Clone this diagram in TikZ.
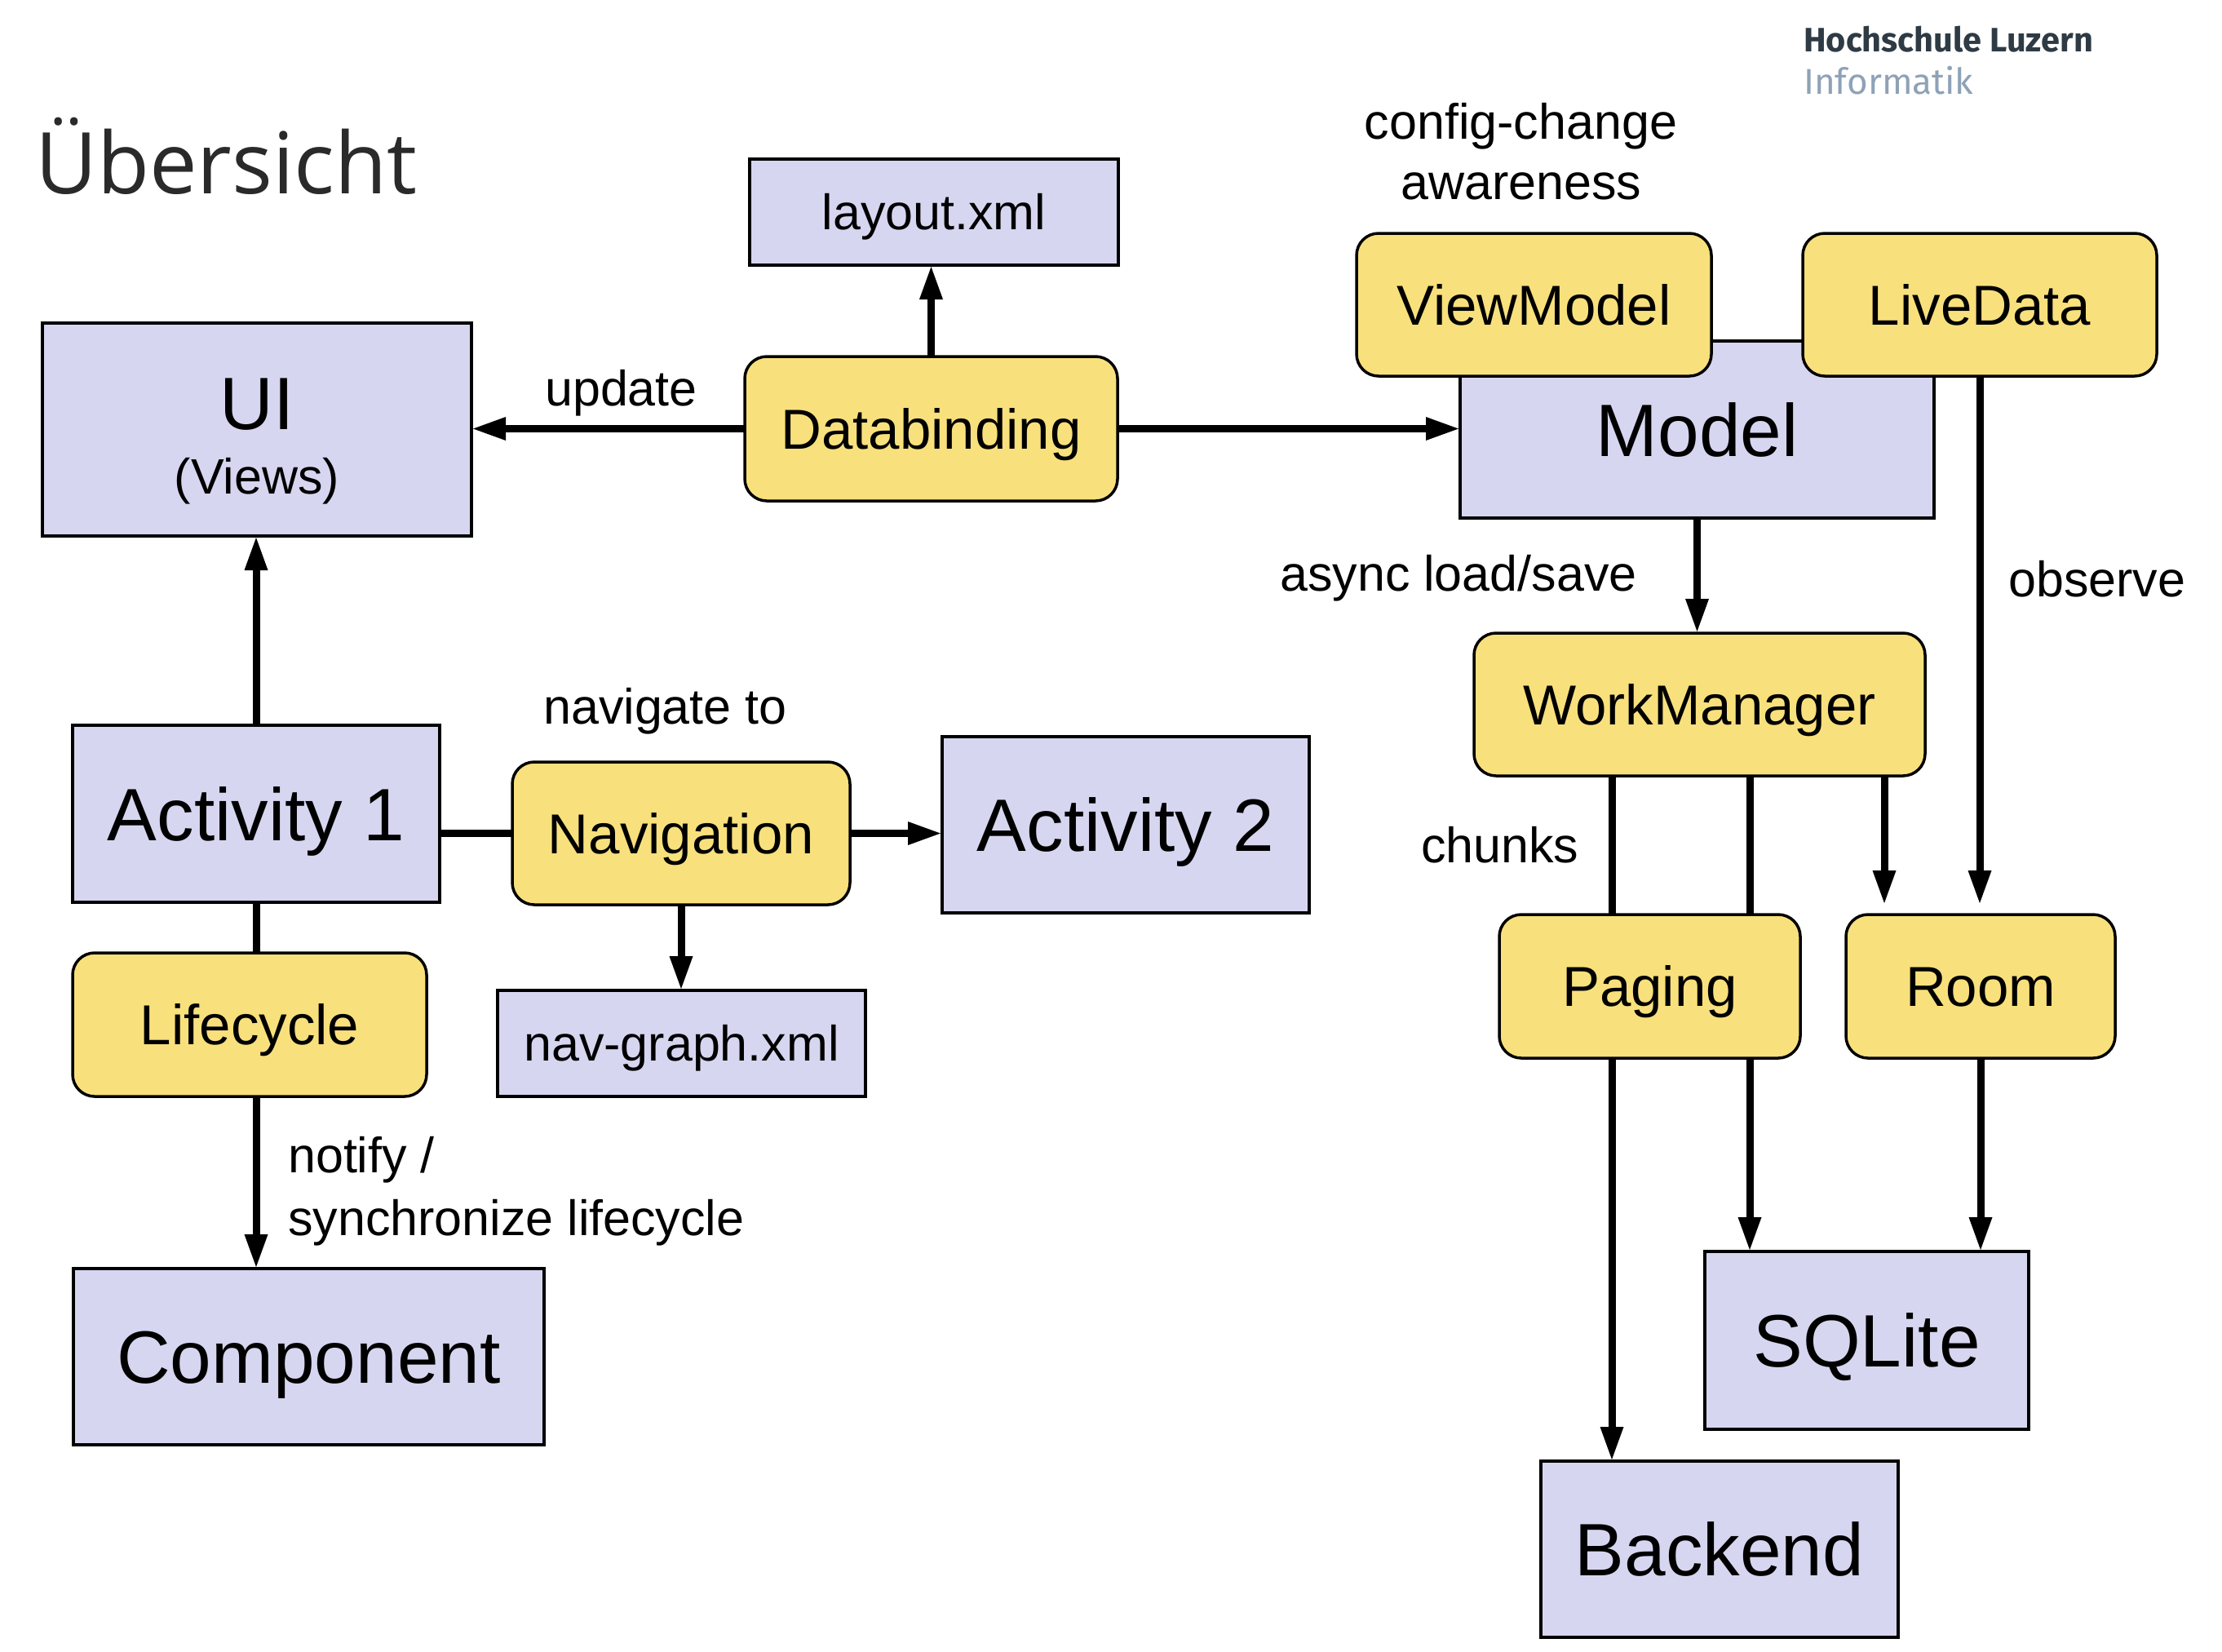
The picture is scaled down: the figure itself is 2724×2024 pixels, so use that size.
\documentclass[tikz,border=0pt]{standalone}
\usepackage{fontspec}
\setmainfont{Liberation Sans}
\newfontfamily\titlefont{Open Sans}
\newfontfamily\logofont{Fira Sans}
\usetikzlibrary{arrows.meta}
\definecolor{lav}{HTML}{D6D6F0}
\definecolor{yel}{HTML}{F8E07C}
\definecolor{titlegray}{HTML}{2A2A2A}
\definecolor{logodark}{HTML}{2E3A44}
\definecolor{logoblue}{HTML}{8EA2B7}
\tikzset{
  bx/.style={draw=black, line width=3.5pt, fill=lav, inner sep=0pt, outer sep=0pt},
  yb/.style={bx, fill=yel, rounded corners=27pt},
  big/.style={font=\fontsize{91}{109}\selectfont, text height=65pt, text depth=0pt},
  mid/.style={font=\fontsize{69}{83}\selectfont, text height=49.4pt, text depth=0pt},
  sml/.style={font=\fontsize{61}{73}\selectfont, text height=43.7pt, text depth=0pt},
  lbl/.style={font=\fontsize{61}{73}\selectfont, inner sep=0pt, anchor=base west},
  arr/.style={line width=9pt, -{Triangle[length=42pt,width=26pt]}},
  ln/.style={line width=9pt},
}
\begin{document}
\begin{tikzpicture}[x=1pt,y=-1pt]
\fill[white] (0,0) rectangle (2724,2024);
\useasboundingbox (0,0) rectangle (2724,2024);

% title and logo
\node[anchor=base west, inner sep=0pt, text=titlegray, font=\titlefont\fontsize{104.5}{120}\selectfont] (title) at (43,237) {Übersicht};
\node[anchor=base west, inner sep=0pt, text=logodark, font=\logofont\bfseries\fontsize{41.5}{50}\selectfont] (logoa) at (2211,63) {Hochschule Luzern};
\node[anchor=base west, inner sep=0pt, text=logoblue, font=\logofont\fontsize{44}{50}\selectfont] (logob) at (2211,115) {Informatik};

% boxes
\node[bx, sml, minimum width=452pt, minimum height=130pt] (layout) at (1145,260) {layout.xml};
\node[bx, minimum width=526pt, minimum height=261pt] (ui) at (315,526.5) {};
\node[anchor=base, inner sep=0pt, font=\fontsize{91}{109}\selectfont] (uit) at (315,526) {UI};
\node[anchor=base, inner sep=0pt, font=\fontsize{61}{73}\selectfont] (uiv) at (315,605) {(Views)};
\node[yb, mid, minimum width=457pt, minimum height=177pt] (db) at (1141.5,525.5) {Databinding};
\node[bx, big, minimum width=581pt, minimum height=217pt] (model) at (2080.5,526.5) {Model};
\node[yb, mid, minimum width=435pt, minimum height=175pt] (vm) at (1880.5,373.5) {ViewModel};
\node[yb, mid, minimum width=434pt, minimum height=175pt] (ld) at (2427,373.5) {LiveData};
\node[bx, big, minimum width=450pt, minimum height=217pt] (act1) at (314,997.5) {Activity 1};
\node[yb, mid, minimum width=414pt, minimum height=175pt] (nav) at (835,1021.5) {Navigation};
\node[bx, big, minimum width=450pt, minimum height=216pt] (act2) at (1380,1011) {Activity 2};
\node[yb, mid, minimum width=434pt, minimum height=176pt] (lc) at (306,1256) {Lifecycle};
\node[bx, sml, minimum width=451pt, minimum height=130pt] (navg) at (835.5,1279) {nav-graph.xml};
\node[bx, big, minimum width=577pt, minimum height=216pt] (comp) at (378.5,1663) {Component};
\node[yb, mid, minimum width=553pt, minimum height=175pt] (wm) at (2083.5,863.5) {WorkManager};
\node[yb, mid, minimum width=369pt, minimum height=176pt] (pg) at (2022.5,1209) {Paging};
\node[yb, mid, minimum width=330pt, minimum height=176pt] (room) at (2428,1209) {Room};
\node[bx, big, minimum width=397pt, minimum height=218pt] (sq) at (2288.5,1643) {SQLite};
\node[bx, big, minimum width=438pt, minimum height=216pt] (be) at (2108,1899) {Backend};

% labels
\node[lbl] (lupd) at (668,497) {update};
\node[anchor=base, inner sep=0pt, font=\fontsize{61}{73}\selectfont] (lcfg1) at (1864.5,170) {config-change};
\node[anchor=base, inner sep=0pt, font=\fontsize{61}{73}\selectfont] (lcfg2) at (1865,244) {awareness};
\node[lbl] (lnav) at (666,887) {navigate to};
\node[lbl] (lnot1) at (353,1437) {notify /};
\node[lbl] (lnot2) at (353,1514) {synchronize lifecycle};
\node[lbl] (lasy) at (1569,724) {async load/save};
\node[lbl] (lobs) at (2462,731) {observe};
\node[lbl] (lchk) at (1742,1057) {chunks};

% connectors
\coordinate (xa) at (1976,0);
\coordinate (xb) at (2145,0);
\coordinate (xc) at (2310,0);
\draw[arr] (db.west) -- (db.west -| ui.east);
\draw[arr] (db.east) -- (db.east -| model.west);
\draw[arr] (db.north) -- (db.north |- layout.south);
\draw[arr] (act1.north) -- (act1.north |- ui.south);
\draw[ln] (nav.west -| act1.east) -- (nav.west);
\draw[arr] (nav.east) -- (nav.east -| act2.west);
\draw[arr] (nav.south) -- (nav.south |- navg.north);
\draw[ln] (act1.south) -- (act1.south |- lc.north);
\draw[arr] (act1.south |- lc.south) -- (act1.south |- comp.north);
\draw[arr] (model.south) -- (model.south |- wm.north);
\draw[arr, shorten >=12pt] (ld.south) -- (ld.south |- room.north);
\draw[ln] (xa |- wm.south) -- (xa |- pg.north);
\draw[ln] (xb |- wm.south) -- (xb |- pg.north);
\draw[arr, shorten >=12pt] (xc |- wm.south) -- (xc |- room.north);
\draw[arr] (xa |- pg.south) -- (xa |- be.north);
\draw[arr] (xb |- pg.south) -- (xb |- sq.north);
\draw[arr] (room.south) -- (room.south |- sq.north);
\end{tikzpicture}
\end{document}
